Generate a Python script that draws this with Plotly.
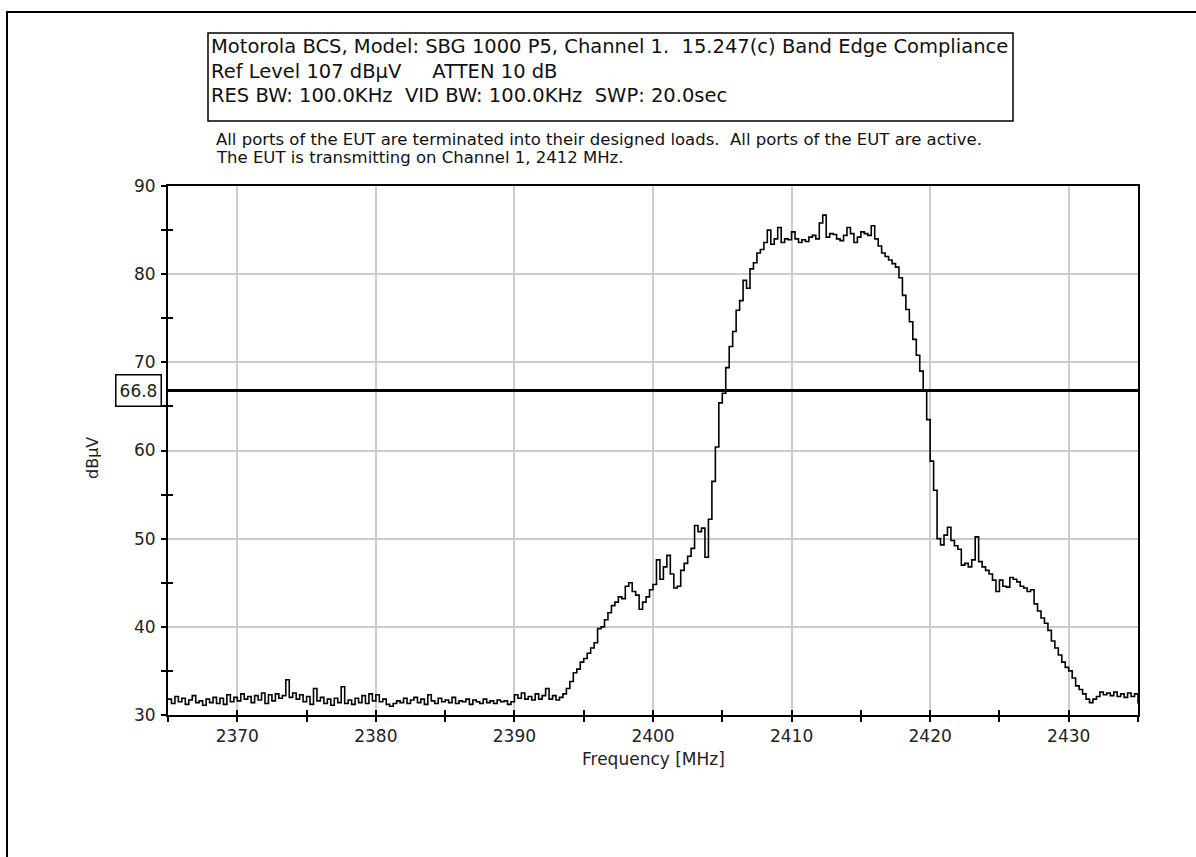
import numpy as np
import plotly.graph_objects as go

# ---------------- data ----------------
freq_start_mhz = 2365.0
freq_step_mhz = 0.25

# measured level (dBuV), one value per 0.25 MHz from 2365 to 2435 MHz
lower_floor = [
    31.8, 31.3, 32.1, 31.5, 31.9, 31.2, 31.7, 32.2, 31.4,
    31.6, 31.1, 31.8, 31.4, 32.0, 31.3, 31.9, 31.2,
    32.3, 31.5, 32.0, 31.6, 32.4, 31.8, 32.1, 31.4,
    32.2, 31.7, 32.5, 31.3, 32.3, 31.6, 32.4, 31.9,
    32.2, 34.0, 32.0, 32.5, 31.8, 32.3, 31.5, 32.1,
    31.2, 33.0, 31.6, 32.0, 31.3, 31.8, 31.1, 31.9,
    31.4, 33.2, 31.3, 31.7, 31.2, 31.9, 31.4, 32.2,
    31.3, 32.4, 31.6, 32.3, 31.5, 31.8, 31.2, 31.0,
    31.3, 31.6, 31.4, 31.9, 31.3, 31.7, 32.0, 31.4,
    31.8, 31.2, 32.3, 31.6, 31.3, 31.9, 31.5, 31.7,
    31.4, 32.0, 31.3, 31.6, 31.5, 31.8, 31.2, 31.7,
    31.5, 31.3, 31.8, 31.4, 31.6, 31.3, 31.7, 31.5,
    31.6, 31.2, 31.5, 32.3, 31.9, 32.5, 31.8, 32.1,
    31.7, 32.4, 31.8, 32.2, 33.0, 31.8, 32.2, 31.7,
]
lower_skirt = [
    32.0, 32.4, 33.0, 33.8, 34.8, 35.2, 36.0, 36.4,
    37.0, 37.6, 38.2, 39.8, 40.0, 40.8, 41.6, 42.4,
    42.8, 43.4, 43.2, 44.6, 45.0, 44.0, 43.6, 42.0,
    42.8, 43.4, 44.2, 44.8, 47.6, 45.4, 46.8, 48.1,
    46.0, 44.4, 44.6, 46.4, 47.2, 48.0, 48.9, 51.5,
    50.8, 51.2, 47.9, 52.2, 56.5, 60.4, 65.4, 66.5,
]
in_band = [
    69.4, 71.8, 73.5, 75.9, 77.0, 79.3, 78.4, 80.6,
    81.3, 82.4, 82.8, 83.6, 85.0, 83.4, 84.0, 85.3,
    83.6, 84.0, 83.9, 84.8, 84.0, 83.6, 83.9, 83.7,
    84.2, 84.4, 84.0, 85.8, 86.7, 84.2, 84.6, 84.5,
    84.0, 83.8, 84.4, 85.3, 84.6, 83.6, 84.2, 84.8,
    84.6, 84.4, 85.5, 84.0, 83.2, 82.4, 82.0, 81.6,
    81.2, 80.8, 79.6, 77.6, 76.0, 74.6, 72.6, 70.8,
    69.0, 66.8,
]
upper_skirt = [
    63.5, 58.8, 55.5, 50.0, 49.3, 50.4, 51.3, 49.8,
    49.2, 48.8, 47.0, 47.2, 46.8, 47.6, 50.2, 47.4,
    46.8, 46.4, 46.0, 45.3, 44.0, 45.3, 44.6, 44.5,
    45.6, 45.4, 45.1, 44.6, 44.4, 44.0, 44.2, 42.6,
    41.8, 41.0, 40.4, 39.6, 38.4, 37.6, 36.8, 36.0,
    35.4, 35.0, 34.2, 33.3, 32.9, 32.4, 31.8, 31.4,
]
upper_floor = [
    31.8, 32.1, 32.6, 32.3, 32.5, 32.2, 32.6, 32.1,
    32.4, 32.0, 32.5, 32.1, 32.4, 31.3,
]

limit_level = 66.8
x_ticks = [2370, 2380, 2390, 2400, 2410, 2420, 2430]
y_ticks = [30, 40, 50, 60, 70, 80, 90]
x_minor = [2365, 2375, 2385, 2395, 2405, 2415, 2425, 2435]
y_minor = [35, 45, 55, 65, 75, 85]

header_lines = [
    "Motorola BCS, Model: SBG 1000 P5, Channel 1.  15.247(c) Band Edge Compliance",
    "Ref Level 107 dB\u00b5V     ATTEN 10 dB",
    "RES BW: 100.0KHz  VID BW: 100.0KHz  SWP: 20.0sec",
]
note_lines = [
    "All ports of the EUT are terminated into their designed loads.  All ports of the EUT are active.",
    "The EUT is transmitting on Channel 1, 2412 MHz.",
]

level = lower_floor + lower_skirt + in_band + upper_skirt + upper_floor
freq = freq_start_mhz + freq_step_mhz * np.arange(len(level))

# ---------------- layout geometry ----------------
W, H = 1196, 857
L, R, T, B = 168, 58, 186, 142
PW, PH = W - L - R, H - T - B


def px(x):
    return (x - L) / PW


def py(y):
    return (H - B - y) / PH


FONT = "DejaVu Sans"

fig = go.Figure()
fig.add_trace(go.Scatter(
    x=freq, y=level, mode="lines", line=dict(color="black", width=1.6, shape="hv"),
    showlegend=False, hoverinfo="x+y",
))
# invisible trace to enable crossing tick overlays
fig.add_trace(go.Scatter(x=[2365], y=[30], xaxis="x2", yaxis="y2", mode="markers",
                         marker=dict(opacity=0), showlegend=False, hoverinfo="skip"))

axis_common = dict(showline=True, linecolor="black", linewidth=2, mirror=True,
                   ticks="outside", ticklen=5, tickwidth=1.5, tickcolor="black",
                   showgrid=True, gridcolor="#cccccc", gridwidth=1.5, zeroline=False,
                   tickfont=dict(family=FONT, size=17, color="#222222"))

fig.update_layout(
    width=W, height=H,
    margin=dict(l=L, r=R, t=T, b=B),
    paper_bgcolor="white", plot_bgcolor="white",
    xaxis=dict(range=[2365, 2435], tickvals=x_ticks, ticktext=[str(v) for v in x_ticks],
               ticklabelstandoff=0,
               minor=dict(tickvals=x_minor, ticks="outside", ticklen=5, tickwidth=1.5,
                          tickcolor="black", showgrid=False),
               **axis_common),
    yaxis=dict(range=[30, 90], tickvals=y_ticks, ticktext=[str(v) for v in y_ticks],
               ticklabelstandoff=2,
               minor=dict(tickvals=y_minor, ticks="outside", ticklen=5, tickwidth=1.5,
                          tickcolor="black", showgrid=False),
               **axis_common),
    xaxis2=dict(range=[2365, 2435], overlaying="x", anchor="y2", side="bottom",
                tickvals=x_minor + x_ticks, ticks="inside", ticklen=5, tickwidth=1.5,
                tickcolor="black", showticklabels=False, showgrid=False, showline=False,
                zeroline=False),
    yaxis2=dict(range=[30, 90], overlaying="y", anchor="x2", side="left",
                tickvals=y_minor, ticks="inside", ticklen=5, tickwidth=1.5,
                tickcolor="black", showticklabels=False, showgrid=False, showline=False,
                zeroline=False),
    font=dict(family=FONT, color="#222222"),
)

shapes = [
    # outer frame (extends beyond the page on right and bottom)
    dict(type="rect", xref="paper", yref="paper", x0=px(7), x1=px(W + 20),
         y0=py(H + 20), y1=py(12), line=dict(color="black", width=2)),
    # header box
    dict(type="rect", xref="paper", yref="paper", x0=px(208), x1=px(1013),
         y0=py(121), y1=py(33), line=dict(color="black", width=1.5)),
    # limit line
    dict(type="line", xref="paper", yref="y", x0=0, x1=1, y0=limit_level, y1=limit_level,
         line=dict(color="black", width=3)),
]

annotations = []
for txt, yy in zip(header_lines, [47, 72, 96]):
    annotations.append(dict(xref="paper", yref="paper", x=px(209), y=py(yy), text=txt,
                            showarrow=False, xanchor="left", yanchor="middle",
                            font=dict(family=FONT, size=19.5, color="#111111")))
for txt, yy in zip(note_lines, [139, 158]):
    annotations.append(dict(xref="paper", yref="paper", x=px(214), y=py(yy), text=txt,
                            showarrow=False, xanchor="left", yanchor="middle",
                            font=dict(family=FONT, size=16.5, color="#111111")))
annotations.append(dict(xref="paper", yref="y", x=px(138), y=limit_level,
                        text=f"{limit_level:.1f}", showarrow=False, xanchor="center",
                        yanchor="middle", width=44, height=30, borderpad=0,
                        bordercolor="black", borderwidth=1.5, bgcolor="white",
                        font=dict(family=FONT, size=17, color="#222222")))
annotations.append(dict(xref="paper", yref="paper", x=px(92), y=py(458), text="dB\u00b5V",
                        textangle=-90, showarrow=False, xanchor="center", yanchor="middle",
                        font=dict(family=FONT, size=16, color="#222222")))
annotations.append(dict(xref="paper", yref="paper", x=0.5, y=py(759),
                        text="Frequency [MHz]", showarrow=False, xanchor="center",
                        yanchor="middle", font=dict(family=FONT, size=17, color="#222222")))

fig.update_layout(shapes=shapes, annotations=annotations)
fig.write_html("out.html")
